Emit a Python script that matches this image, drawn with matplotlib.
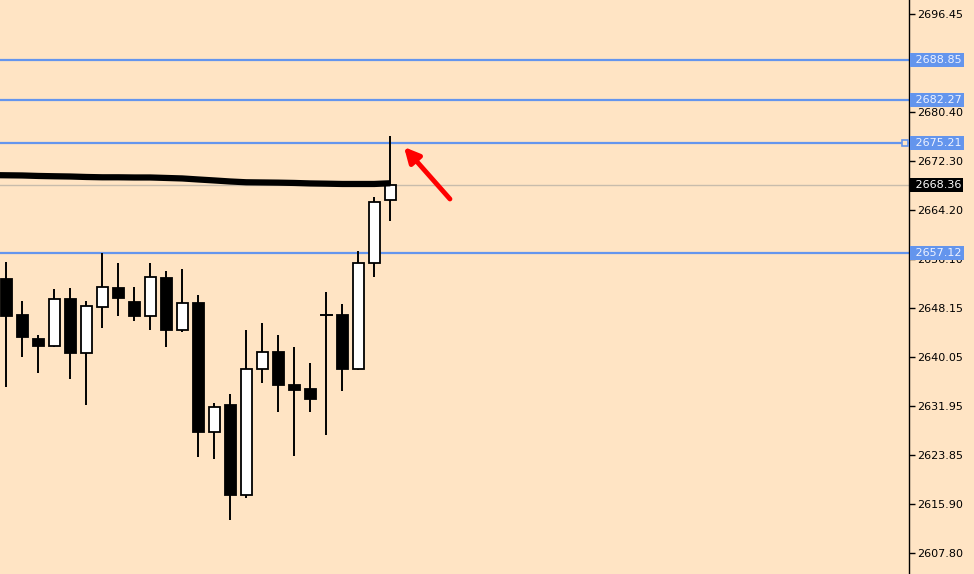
import numpy as np
import matplotlib
matplotlib.use("Agg")
import matplotlib.pyplot as plt
from matplotlib.patches import Rectangle
import matplotlib.transforms as mtransforms

# OHLC, oldest first
opens = [2652.86, 2646.94, 2643.00, 2641.89, 2649.57, 2640.74, 2648.31, 2651.38,
         2649.08, 2646.83, 2653.03, 2644.53, 2648.87, 2627.75, 2632.14, 2617.39,
         2638.01, 2640.86, 2635.43, 2634.77, 2646.89, 2646.94, 2638.11, 2655.45,
         2665.81]
highs = [2655.66, 2649.25, 2643.65, 2651.22, 2651.38, 2649.25, 2657.14, 2655.50,
         2651.55, 2655.50, 2654.18, 2654.51, 2650.23, 2632.47, 2633.95, 2644.48,
         2645.63, 2643.65, 2641.68, 2639.05, 2650.68, 2648.75, 2657.42, 2666.30,
         2676.38]
lows = [2635.15, 2640.08, 2637.45, 2641.73, 2636.47, 2632.19, 2644.85, 2646.78,
        2646.01, 2644.53, 2641.73, 2644.20, 2623.64, 2623.31, 2613.23, 2616.84,
        2635.81, 2631.04, 2623.80, 2631.04, 2627.21, 2634.49, 2637.95, 2653.14,
        2662.45]
closes = [2646.83, 2643.37, 2641.89, 2649.53, 2640.74, 2648.42, 2651.55, 2649.79,
          2646.83, 2653.19, 2644.53, 2648.92, 2627.75, 2631.76, 2617.39, 2638.01,
          2640.86, 2635.48, 2634.66, 2633.18, 2646.89, 2638.11, 2655.45, 2665.48,
          2668.36]
# moving average, first value belongs to the bar just left of the view
moving_avg = [2669.95, 2669.92, 2669.89, 2669.81, 2669.76, 2669.72, 2669.64, 2669.59,
              2669.59, 2669.56, 2669.56, 2669.48, 2669.40, 2669.23, 2669.07, 2668.90,
              2668.77, 2668.74, 2668.71, 2668.66, 2668.58, 2668.54, 2668.49, 2668.49,
              2668.49, 2668.61]

levels = [2688.85, 2682.27, 2675.21, 2657.12]
selected_level = 2675.21
last_price = 2668.36
tick_values = [2696.45, 2680.40, 2672.30, 2664.20, 2656.10, 2648.15, 2640.05,
               2631.95, 2623.85, 2615.90, 2607.80]

BG = "#FFE4C4"
BLUE = "#6495ED"

fig = plt.figure(figsize=(9.74, 5.74), dpi=100, facecolor=BG)
ax = fig.add_axes([0, 0, 909 / 974, 1])
ax.set_facecolor(BG)

x = np.arange(len(opens))
body_w = 0.68
for i in x:
    o, h, l, c = opens[i], highs[i], lows[i], closes[i]
    ax.plot([i, i], [l, h], color="black", lw=1.4, zorder=3, solid_capstyle="butt")
    bull = c >= o
    lo, hi = min(o, c), max(o, c)
    if hi - lo < 0.3:
        ax.plot([i - body_w / 2, i + body_w / 2], [o, o], color="black", lw=1.4, zorder=4)
        continue
    ax.add_patch(Rectangle((i - body_w / 2, lo), body_w, hi - lo,
                           facecolor="white" if bull else "black",
                           edgecolor="black", lw=1.3, zorder=4))

ma_x = np.arange(-1, len(opens))
ax.plot(ma_x, moving_avg, color="black", lw=4.5, zorder=5, solid_capstyle="butt")

for lv in levels:
    ax.axhline(lv, color=BLUE, lw=1.6, zorder=2)
ax.axhline(last_price, color="#C8BCAC", lw=1.0, zorder=1)

trans = mtransforms.blended_transform_factory(ax.transAxes, ax.transData)
# little handle on the selected level line
ax.plot([0.9955], [selected_level], transform=trans, marker="s", ms=4,
        mfc=BG, mec=BLUE, mew=1.2, zorder=7, clip_on=False)

# red arrow pointing at the wick high
ax.annotate("", xy=(24.86, 2674.57), xytext=(27.73, 2666.02),
            arrowprops=dict(arrowstyle="-|>,head_width=0.45,head_length=0.9",
                            color="red", lw=3.5, shrinkA=0, shrinkB=0), zorder=6)

ax.set_xlim(-0.39, 56.42)
ax.set_ylim(2604.34, 2698.75)

for s in ["left", "top", "bottom"]:
    ax.spines[s].set_visible(False)
ax.spines["right"].set_color("black")
ax.spines["right"].set_linewidth(1.0)
ax.set_xticks([])
ax.yaxis.tick_right()
ax.set_yticks(tick_values)
ax.set_yticklabels([f"{v:.2f}" for v in tick_values])
ax.tick_params(axis="y", direction="out", length=4, width=1, pad=1.5,
               labelsize=8, colors="black")

for lv in levels:
    ax.annotate(f" {lv:.2f}", xy=(1.0, lv), xycoords=trans, xytext=(2, 0),
                textcoords="offset points", ha="left", va="center",
                fontsize=8, color="#EEF2FF", annotation_clip=False, zorder=10,
                bbox=dict(boxstyle="square,pad=0.2", facecolor=BLUE, edgecolor="none"))
ax.annotate(f" {last_price:.2f}", xy=(1.0, last_price), xycoords=trans, xytext=(2, 0),
            textcoords="offset points", ha="left", va="center",
            fontsize=8, color="white", annotation_clip=False, zorder=10,
            bbox=dict(boxstyle="square,pad=0.2", facecolor="black", edgecolor="none"))

fig.savefig("out.png", dpi=100, facecolor=BG)
